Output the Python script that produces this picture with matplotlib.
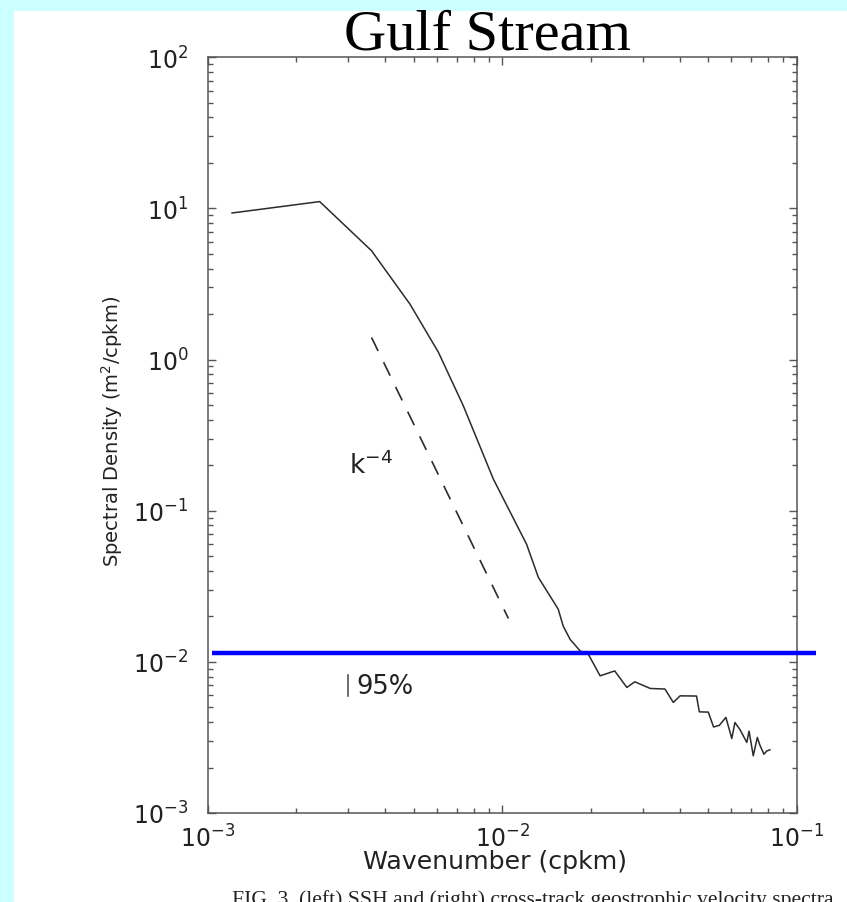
import numpy as np
import matplotlib
matplotlib.use("Agg")
import matplotlib.pyplot as plt
from matplotlib.patches import Rectangle
from matplotlib.ticker import LogLocator

plt.rcParams['font.family'] = ['DejaVu Sans']
plt.rcParams['mathtext.default'] = 'regular'

# Gulf Stream SSH wavenumber spectrum
wavenumber = [1.21e-3, 2.40e-3, 3.60e-3, 4.86e-3, 6.07e-3, 7.38e-3, 9.33e-3,
              1.21e-2, 1.327e-2, 1.55e-2, 1.61e-2, 1.70e-2, 1.84e-2, 1.96e-2,
              2.15e-2, 2.41e-2, 2.65e-2, 2.82e-2, 3.18e-2, 3.57e-2, 3.81e-2,
              4.02e-2, 4.57e-2, 4.67e-2, 5.01e-2, 5.22e-2, 5.46e-2, 5.75e-2,
              6.02e-2, 6.17e-2, 6.42e-2, 6.77e-2, 6.89e-2, 7.12e-2, 7.35e-2,
              7.50e-2, 7.74e-2, 7.91e-2, 8.11e-2]
spectrum = [9.33, 11.1, 5.25, 2.33, 1.12, 0.494, 0.162,
            0.060, 0.0362, 0.0223, 0.0173, 0.0141, 0.0118, 0.01125,
            0.00808, 0.00871, 0.00677, 0.00738, 0.00667, 0.00661, 0.00539,
            0.00596, 0.00594, 0.00467, 0.00465, 0.00371, 0.00380, 0.00429,
            0.00311, 0.00397, 0.00356, 0.00293, 0.00348, 0.00239, 0.00316,
            0.00281, 0.00245, 0.00257, 0.00262]

# k^-4 reference slope
slope_k = [3.6e-3, 1.05e-2]
slope_start = 1.40
slope_power = -4

# noise level line and 95% confidence bar
noise_level = 0.01143
noise_k = [1.032e-3, 0.1163]
conf_k = 2.99e-3
conf_range = [0.0059, 0.00817]

fig = plt.figure(figsize=(8.47, 9.03), dpi=100, facecolor='#ccffff')
panel = Rectangle((14 / 847, 0), 1, 1 - 12 / 903, transform=fig.transFigure,
                  facecolor='white', edgecolor='none', zorder=-10)
fig.add_artist(panel)

ax = fig.add_axes([207.7 / 847, 1 - 814 / 903, 589 / 847, 755.7 / 903])
ax.set_facecolor('white')

ax.plot(wavenumber, spectrum, color='#2b2b2b', lw=1.1)

sk = np.array(slope_k)
ax.plot(sk, slope_start * (sk / sk[0]) ** slope_power, color='#2b2b2b',
        lw=1.2, dashes=(9, 7.5))
ax.text(3.02e-3, 0.2, r'$k^{-4}$', fontsize=19, va='center', ha='left',
        color='#222222')

ax.plot(noise_k, [noise_level, noise_level], color='#0000ff', lw=3.2,
        clip_on=False, solid_capstyle='butt', zorder=5)
ax.plot([conf_k, conf_k], conf_range, color='#444444', lw=1.1)
ax.text(3.21e-3, 0.0069, '95%', fontsize=18.5, va='center', ha='left',
        color='#222222')

ax.set_xscale('log')
ax.set_yscale('log')
ax.set_xlim(1e-3, 1e-1)
ax.set_ylim(1e-3, 1e2)
ax.xaxis.set_major_locator(LogLocator(base=10, numticks=10))
ax.yaxis.set_major_locator(LogLocator(base=10, numticks=10))

for s in ax.spines.values():
    s.set_color('#555555')
    s.set_linewidth(1.1)
ax.tick_params(which='both', direction='in', top=True, right=True,
               colors='#555555', labelcolor='#222222', width=1.0)
ax.tick_params(which='major', length=6, labelsize=17)
ax.tick_params(axis='y', which='major', pad=14)
ax.tick_params(axis='x', which='major', pad=8)
ax.tick_params(which='minor', length=3.3)

ax.set_xlabel('Wavenumber (cpkm)', fontsize=18.2, color='#222222')
ax.xaxis.set_label_coords(0.4886, -0.048)
ax.set_ylabel('Spectral Density (m$^2$/cpkm)', fontsize=14, color='#222222')
ax.yaxis.set_label_coords(-0.140, 0.5055)

fig.text(487 / 847, 1 - 50 / 903, 'Gulf Stream', family='Liberation Serif',
         fontsize=42, ha='center', va='baseline', color='black')
fig.text(232 / 847, 1 - 905 / 903,
         'FIG. 3. (left) SSH and (right) cross-track geostrophic velocity spectra',
         family='Liberation Serif', fontsize=15.6, ha='left', va='baseline',
         color='#222222')

fig.savefig('out.png', dpi=100, facecolor=fig.get_facecolor())
